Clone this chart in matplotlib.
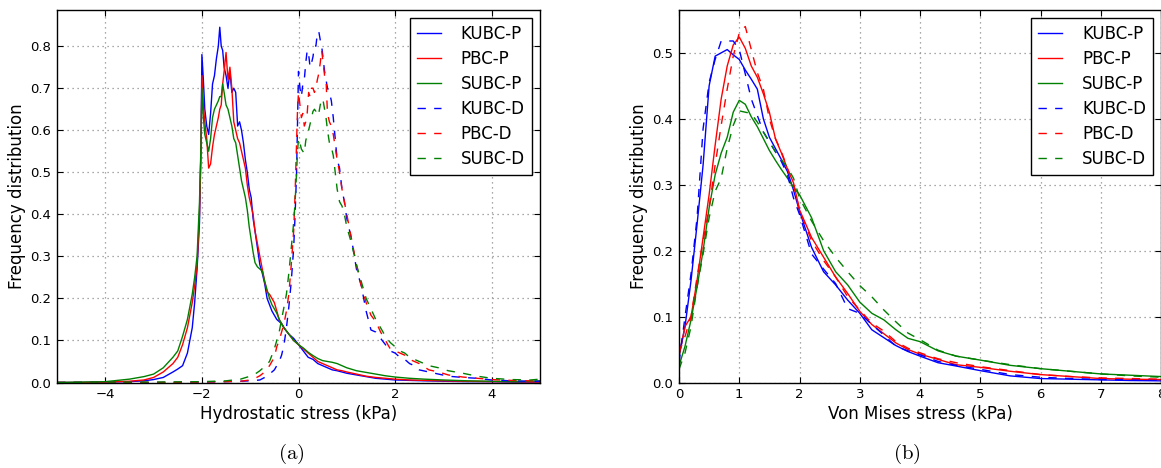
import matplotlib
matplotlib.use("Agg")
import matplotlib.pyplot as plt

# ---------------- Panel (a): hydrostatic stress ----------------
x_p = [-5.0, -4.5, -4.0, -3.5, -3.2, -3.0, -2.8, -2.6, -2.5, -2.4,
       -2.3, -2.2, -2.15, -2.1, -2.05, -2.02, -2.0, -1.97, -1.94, -1.9,
       -1.86, -1.82, -1.78, -1.74, -1.70, -1.66, -1.63, -1.60, -1.57, -1.54,
       -1.50, -1.46, -1.42, -1.38, -1.34, -1.30, -1.26, -1.22, -1.18, -1.14,
       -1.10, -1.06, -1.02, -0.98, -0.94, -0.90, -0.85, -0.80, -0.75, -0.70,
       -0.65, -0.60, -0.55, -0.50, -0.45, -0.40, -0.35, -0.30, -0.20, -0.10,
       0.0, 0.1, 0.2, 0.3, 0.4, 0.5, 0.6, 0.7, 0.8, 0.9,
       1.0, 1.2, 1.4, 1.6, 1.8, 2.0, 2.3, 2.6, 3.0, 3.5,
       4.0, 4.5, 5.0]

hyd_kubc_p = [0.0, 0.0, 0.001, 0.002, 0.004, 0.007, 0.012, 0.025, 0.032, 0.040,
              0.070, 0.130, 0.190, 0.270, 0.380, 0.550, 0.780, 0.720, 0.650, 0.610,
              0.590, 0.640, 0.710, 0.730, 0.770, 0.800, 0.845, 0.800, 0.790, 0.750,
              0.730, 0.700, 0.740, 0.690, 0.700, 0.690, 0.610, 0.620, 0.600, 0.570,
              0.530, 0.500, 0.460, 0.440, 0.390, 0.360, 0.320, 0.280, 0.260, 0.235,
              0.200, 0.185, 0.170, 0.160, 0.150, 0.145, 0.140, 0.130, 0.115, 0.105,
              0.090, 0.075, 0.060, 0.055, 0.045, 0.040, 0.035, 0.030, 0.028, 0.025,
              0.022, 0.018, 0.014, 0.010, 0.008, 0.006, 0.005, 0.004, 0.003, 0.002,
              0.002, 0.001, 0.001]

hyd_pbc_p = [0.0, 0.0, 0.001, 0.003, 0.006, 0.012, 0.025, 0.045, 0.060, 0.090,
             0.130, 0.190, 0.230, 0.280, 0.400, 0.550, 0.730, 0.660, 0.620, 0.580,
             0.510, 0.520, 0.560, 0.590, 0.610, 0.630, 0.650, 0.660, 0.710, 0.740,
             0.785, 0.720, 0.750, 0.700, 0.620, 0.600, 0.580, 0.570, 0.550, 0.530,
             0.510, 0.470, 0.440, 0.420, 0.400, 0.360, 0.330, 0.300, 0.270, 0.240,
             0.215, 0.210, 0.200, 0.190, 0.170, 0.150, 0.140, 0.130, 0.115, 0.100,
             0.090, 0.080, 0.070, 0.060, 0.050, 0.045, 0.040, 0.035, 0.030, 0.028,
             0.025, 0.020, 0.015, 0.012, 0.010, 0.008, 0.006, 0.005, 0.004, 0.003,
             0.002, 0.002, 0.001]

hyd_subc_p = [0.0, 0.001, 0.002, 0.008, 0.014, 0.020, 0.035, 0.060, 0.075, 0.110,
              0.150, 0.210, 0.250, 0.300, 0.430, 0.560, 0.700, 0.630, 0.590, 0.570,
              0.550, 0.580, 0.630, 0.650, 0.660, 0.670, 0.680, 0.680, 0.710, 0.690,
              0.660, 0.650, 0.630, 0.610, 0.580, 0.570, 0.540, 0.510, 0.480, 0.460,
              0.440, 0.410, 0.370, 0.340, 0.310, 0.285, 0.275, 0.270, 0.265, 0.240,
              0.220, 0.200, 0.185, 0.175, 0.165, 0.150, 0.140, 0.130, 0.115, 0.100,
              0.090, 0.082, 0.072, 0.064, 0.057, 0.052, 0.050, 0.048, 0.045, 0.040,
              0.035, 0.028, 0.024, 0.020, 0.016, 0.013, 0.010, 0.008, 0.006, 0.004,
              0.003, 0.002, 0.004]

x_d = [-5.0, -4.0, -3.0, -2.0, -1.5, -1.2, -1.0, -0.9, -0.8, -0.7,
       -0.6, -0.5, -0.45, -0.4, -0.35, -0.3, -0.25, -0.2, -0.15, -0.1,
       -0.07, -0.04, -0.02, 0.0, 0.03, 0.06, 0.09, 0.12, 0.15, 0.18,
       0.21, 0.24, 0.27, 0.30, 0.33, 0.36, 0.39, 0.42, 0.45, 0.48,
       0.51, 0.54, 0.57, 0.60, 0.64, 0.68, 0.72, 0.76, 0.80, 0.85,
       0.90, 0.95, 1.0, 1.1, 1.2, 1.3, 1.4, 1.5, 1.6, 1.7,
       1.8, 1.9, 2.0, 2.1, 2.2, 2.3, 2.4, 2.5, 2.7, 2.9,
       3.1, 3.4, 3.7, 4.0, 4.4, 4.8, 5.0]

hyd_kubc_d = [0.0, 0.0, 0.0, 0.001, 0.002, 0.003, 0.004, 0.005, 0.006, 0.012,
              0.020, 0.030, 0.040, 0.050, 0.065, 0.090, 0.130, 0.180, 0.240, 0.320,
              0.400, 0.500, 0.620, 0.740, 0.700, 0.680, 0.710, 0.720, 0.760, 0.790,
              0.780, 0.750, 0.760, 0.775, 0.800, 0.800, 0.830, 0.835, 0.815, 0.800,
              0.770, 0.740, 0.720, 0.700, 0.690, 0.670, 0.630, 0.580, 0.530, 0.510,
              0.460, 0.430, 0.390, 0.340, 0.270, 0.230, 0.170, 0.125, 0.120, 0.105,
              0.090, 0.075, 0.070, 0.060, 0.055, 0.045, 0.040, 0.030, 0.025, 0.020,
              0.015, 0.012, 0.010, 0.006, 0.004, 0.003, 0.003]

hyd_pbc_d = [0.0, 0.0, 0.0, 0.001, 0.002, 0.003, 0.006, 0.010, 0.016, 0.025,
             0.040, 0.060, 0.085, 0.100, 0.120, 0.140, 0.170, 0.210, 0.280, 0.360,
             0.450, 0.570, 0.650, 0.690, 0.660, 0.630, 0.640, 0.610, 0.620, 0.640,
             0.690, 0.680, 0.700, 0.700, 0.690, 0.700, 0.720, 0.735, 0.760, 0.790,
             0.760, 0.730, 0.720, 0.640, 0.620, 0.610, 0.590, 0.560, 0.530, 0.500,
             0.460, 0.430, 0.400, 0.340, 0.280, 0.230, 0.190, 0.160, 0.145, 0.120,
             0.100, 0.080, 0.075, 0.070, 0.065, 0.055, 0.050, 0.045, 0.030, 0.025,
             0.018, 0.013, 0.010, 0.007, 0.005, 0.004, 0.003]

hyd_subc_d = [0.0, 0.001, 0.001, 0.002, 0.004, 0.008, 0.015, 0.020, 0.028, 0.038,
              0.050, 0.080, 0.100, 0.120, 0.150, 0.180, 0.210, 0.260, 0.320, 0.380,
              0.430, 0.500, 0.550, 0.580, 0.570, 0.555, 0.550, 0.545, 0.575, 0.590,
              0.600, 0.615, 0.630, 0.645, 0.650, 0.645, 0.635, 0.640, 0.660, 0.675,
              0.670, 0.650, 0.630, 0.600, 0.570, 0.560, 0.540, 0.500, 0.460, 0.430,
              0.420, 0.400, 0.370, 0.330, 0.280, 0.240, 0.200, 0.175, 0.150, 0.130,
              0.110, 0.095, 0.085, 0.075, 0.070, 0.060, 0.055, 0.050, 0.040, 0.035,
              0.028, 0.022, 0.015, 0.010, 0.007, 0.006, 0.008]

# ---------------- Panel (b): von Mises stress ----------------
x_v = [0.0, 0.1, 0.2, 0.3, 0.4, 0.5, 0.6, 0.7, 0.8, 0.9,
       1.0, 1.1, 1.2, 1.3, 1.4, 1.5, 1.6, 1.7, 1.8, 1.9,
       2.0, 2.2, 2.4, 2.6, 2.8, 3.0, 3.2, 3.4, 3.6, 3.8,
       4.0, 4.3, 4.6, 5.0, 5.5, 6.0, 6.5, 7.0, 7.5, 8.0]

vm_kubc_p = [0.040, 0.085, 0.155, 0.240, 0.330, 0.450, 0.495, 0.500, 0.505, 0.497,
             0.490, 0.474, 0.460, 0.445, 0.400, 0.372, 0.355, 0.338, 0.320, 0.292,
             0.260, 0.205, 0.168, 0.148, 0.125, 0.105, 0.080, 0.068, 0.056, 0.047,
             0.040, 0.030, 0.025, 0.018, 0.010, 0.006, 0.005, 0.004, 0.003, 0.0025]

vm_pbc_p = [0.040, 0.085, 0.100, 0.155, 0.220, 0.285, 0.360, 0.430, 0.480, 0.512,
            0.524, 0.507, 0.480, 0.463, 0.438, 0.410, 0.370, 0.348, 0.324, 0.303,
            0.262, 0.220, 0.190, 0.160, 0.135, 0.108, 0.088, 0.074, 0.060, 0.050,
            0.043, 0.035, 0.027, 0.023, 0.017, 0.012, 0.009, 0.006, 0.005, 0.0045]

vm_subc_p = [0.025, 0.055, 0.095, 0.145, 0.200, 0.265, 0.315, 0.348, 0.372, 0.410,
             0.428, 0.422, 0.403, 0.388, 0.370, 0.352, 0.337, 0.323, 0.310, 0.296,
             0.285, 0.250, 0.200, 0.168, 0.148, 0.122, 0.105, 0.095, 0.080, 0.067,
             0.062, 0.048, 0.040, 0.034, 0.026, 0.021, 0.017, 0.013, 0.011, 0.009]

vm_kubc_d = [0.030, 0.100, 0.165, 0.250, 0.385, 0.455, 0.490, 0.518, 0.518, 0.518,
             0.505, 0.468, 0.430, 0.405, 0.380, 0.365, 0.350, 0.335, 0.315, 0.280,
             0.255, 0.195, 0.172, 0.150, 0.112, 0.105, 0.088, 0.072, 0.055, 0.048,
             0.042, 0.032, 0.026, 0.020, 0.012, 0.008, 0.006, 0.0045, 0.004, 0.0035]

vm_pbc_d = [0.045, 0.070, 0.100, 0.160, 0.215, 0.265, 0.330, 0.390, 0.445, 0.495,
            0.530, 0.540, 0.505, 0.470, 0.445, 0.400, 0.370, 0.350, 0.325, 0.300,
            0.262, 0.215, 0.185, 0.160, 0.130, 0.110, 0.090, 0.078, 0.062, 0.052,
            0.045, 0.036, 0.030, 0.024, 0.018, 0.012, 0.009, 0.007, 0.006, 0.005]

vm_subc_d = [0.020, 0.045, 0.085, 0.145, 0.195, 0.250, 0.290, 0.310, 0.355, 0.390,
             0.412, 0.410, 0.408, 0.395, 0.380, 0.365, 0.350, 0.338, 0.326, 0.310,
             0.280, 0.245, 0.215, 0.190, 0.168, 0.147, 0.130, 0.110, 0.092, 0.075,
             0.065, 0.049, 0.040, 0.034, 0.027, 0.021, 0.017, 0.013, 0.010, 0.008]

labels = ["KUBC-P", "PBC-P", "SUBC-P", "KUBC-D", "PBC-D", "SUBC-D"]
colors = ["#0000ff", "#ff0000", "#008000"]

plt.rcParams["font.family"] = ["DejaVu Sans"]
plt.rcParams["mathtext.fontset"] = "cm"

fig = plt.figure(figsize=(11.61, 4.68), dpi=100)
W, H = 1161.0, 468.0
ax1 = fig.add_axes([57 / W, 1 - 382.5 / H, 483 / W, 372.5 / H])
ax2 = fig.add_axes([679 / W, 1 - 382.5 / H, 482 / W, 372.5 / H])


def style(ax, xlabel):
    ax.grid(True, color="0.55", linestyle=(0, (1, 3)), linewidth=0.9)
    ax.tick_params(direction="in", top=True, right=True, length=4,
                   labelsize=9.5, pad=4)
    for s in ax.spines.values():
        s.set_linewidth(1.0)
    ax.set_xlabel(xlabel, fontsize=12)
    ax.set_ylabel("Frequency distribution", fontsize=12)
    ax.yaxis.set_label_coords(-0.064, 0.5)
    ax.xaxis.set_label_coords(0.5, -0.06)
    ax.legend(loc="upper right", fontsize=12, frameon=True, fancybox=False,
              framealpha=1, edgecolor="black", handlelength=1.45,
              handletextpad=1.2, labelspacing=0.42, borderpad=0.4,
              borderaxespad=0.5).get_frame().set_linewidth(1.0)


dash = (0, (6, 6))
for y, c, lab in zip([hyd_kubc_p, hyd_pbc_p, hyd_subc_p], colors, labels[:3]):
    ax1.plot(x_p, y, color=c, lw=1.0, label=lab)
for y, c, lab in zip([hyd_kubc_d, hyd_pbc_d, hyd_subc_d], colors, labels[3:]):
    ax1.plot(x_d, y, color=c, lw=1.0, linestyle=dash, label=lab)
ax1.set_xlim(-5, 5)
ax1.set_ylim(0, 0.886)
ax1.set_xticks([-4, -2, 0, 2, 4])
ax1.set_yticks([0.0, 0.1, 0.2, 0.3, 0.4, 0.5, 0.6, 0.7, 0.8])
ax1.set_yticklabels(["0.0", "0.1", "0.2", "0.3", "0.4", "0.5", "0.6", "0.7", "0.8"])
style(ax1, "Hydrostatic stress (kPa)")

for y, c, lab in zip([vm_kubc_p, vm_pbc_p, vm_subc_p], colors, labels[:3]):
    ax2.plot(x_v, y, color=c, lw=1.0, label=lab)
for y, c, lab in zip([vm_kubc_d, vm_pbc_d, vm_subc_d], colors, labels[3:]):
    ax2.plot(x_v, y, color=c, lw=1.0, linestyle=dash, label=lab)
ax2.set_xlim(0, 8)
ax2.set_ylim(0, 0.565)
ax2.set_xticks([0, 1, 2, 3, 4, 5, 6, 7, 8])
ax2.set_yticks([0.0, 0.1, 0.2, 0.3, 0.4, 0.5])
ax2.set_yticklabels(["0.0", "0.1", "0.2", "0.3", "0.4", "0.5"])
style(ax2, "Von Mises stress (kPa)")

fig.text(291 / W, 1 - 454 / H, r"$\mathrm{(a)}$", fontsize=15, ha="center", va="center")
fig.text(907 / W, 1 - 454 / H, r"$\mathrm{(b)}$", fontsize=15, ha="center", va="center")

fig.savefig("out.png", dpi=100, facecolor="white")
